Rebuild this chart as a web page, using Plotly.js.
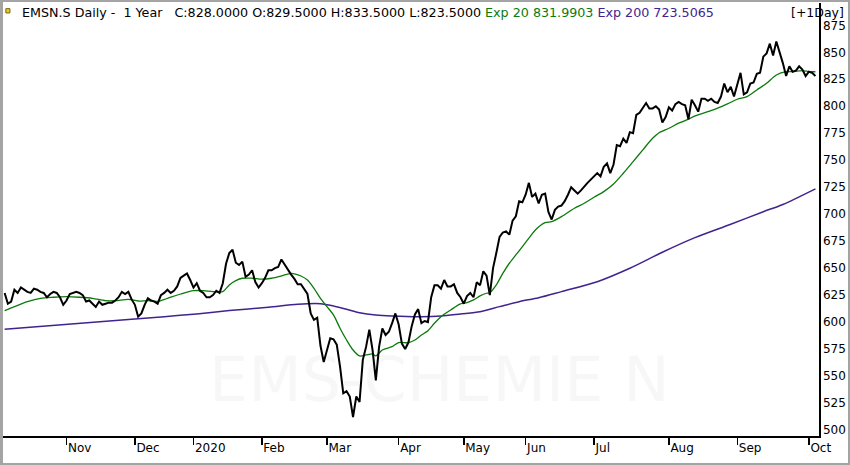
<!DOCTYPE html>
<html>
<head>
<meta charset="utf-8">
<script src="https://cdn.plot.ly/plotly-3.0.1.min.js"></script>
<style>
  body { margin: 0; background: #fff; }
  #frame {
    position: absolute; left: 0; top: 0;
    width: 850px; height: 465px; box-sizing: border-box;
    border: 2px solid #a4a4a4; border-left-width: 3px;
  }
  #chart { position: absolute; left: 0; top: 0; width: 850px; height: 465px; }
</style>
</head>
<body>
<div id="frame"></div>
<div id="chart"></div>
<script>
'use strict';

// daily closes, one per trading day (early Oct 2019 .. early Oct 2020)
const closes = [
  627, 617, 619, 630, 627, 632, 630, 628, 627, 631,
  630, 628, 627, 623, 626, 628, 627, 623, 616, 620,
  626, 627, 628, 627, 625, 619, 620, 617, 614, 619,
  616, 617, 618, 618, 620, 623, 628, 626, 628, 621,
  616, 605, 608, 616, 622, 620, 619, 617, 625, 627,
  630, 627, 629, 633, 641, 643, 645, 639, 632, 636,
  629, 627, 623, 623, 625, 629, 627, 636, 654, 664,
  667, 655, 653, 656, 642, 644, 648, 637, 632, 636,
  641, 648, 648, 650, 651, 658, 653, 649, 644, 640,
  635, 635, 631, 626, 608, 602, 604, 578, 563, 573,
  585, 584, 579, 559, 534, 536, 531, 512, 531, 526,
  565, 577, 593, 574, 546, 577, 594, 588, 591, 599,
  608, 598, 580, 575, 581, 596, 607, 612, 599, 601,
  600, 623, 634, 634, 631, 639, 633, 633, 635, 627,
  623, 617, 624, 627, 623, 637, 634, 647, 643, 625,
  650, 664, 679, 683, 684, 681, 694, 698, 712, 711,
  718, 729, 716, 719, 710, 718, 719, 702, 695, 704,
  707, 708, 712, 718, 725, 722, 719, 722, 726, 729,
  732, 735, 738, 735, 744, 747, 738, 746, 764, 763,
  770, 766, 776, 775, 792, 794, 798, 803, 798, 798,
  800, 797, 785, 790, 799, 796, 802, 804, 802, 801,
  788, 806, 801, 795, 807, 807, 805, 807, 804, 803,
  809, 821, 813, 818, 809, 821, 831, 811, 813, 821,
  822, 830, 831, 846, 849, 858, 847, 860, 851, 840,
  828, 837, 832, 833, 837, 834, 828, 832, 831, 828
];

// exponential moving average 20 (day index, value)
const ema20Idx = [0, 3, 7, 11, 15, 19, 23, 27, 31, 34, 38, 41, 44, 47, 50, 54, 58, 61, 64, 67,
  69, 71, 73, 76, 79, 82, 85, 88, 91, 93, 95, 97, 99, 101, 103, 105, 107, 109, 111, 113,
  114, 116, 119, 121, 124, 126, 128, 130, 132, 134, 137, 140, 142, 144, 146, 148, 149, 151, 153, 155,
  157, 159, 161, 163, 166, 168, 171, 175, 178, 181, 184, 187, 190, 193, 196, 199, 201, 204, 207, 210,
  212, 216, 219, 222, 225, 228, 231, 234, 237, 240, 242, 245, 247, 249];
const ema20Val = [610.6, 614.3, 618.9, 622, 623, 623.5, 623, 622, 619.8, 619.8, 621.1, 619.5, 619.8, 619.2, 622, 626, 629.1, 629.1, 628.2, 628.2,
  634.4, 638.4, 640.6, 640.6, 639.7, 640.6, 642.7, 645.2, 642.7, 639, 631.3, 622, 614.3, 606.6, 594.3, 583.4, 574.1, 568.6, 569.5, 570.4,
  568.6, 574.1, 577.2, 581, 580.9, 583.4, 588, 592, 598.9, 605, 611.2, 616.8, 618, 620.5, 624.2, 626.7, 627.2, 634.4, 645.2, 654.5,
  662.2, 669.9, 677.7, 685.4, 692.1, 693, 697.7, 705.5, 710.1, 715.7, 720.9, 728, 737.9, 748.7, 759.6, 770.3, 775.5, 779.6, 784.3, 788,
  791, 795, 798.2, 802.2, 806.5, 808.9, 815.1, 821.3, 829, 832.1, 832.1, 833, 832.1, 832];

// exponential moving average 200
const ema200Idx = [0, 38, 49, 59, 69, 81, 90, 97, 101, 105, 109, 114, 119, 127, 134, 140, 146, 152, 158, 164,
  171, 182, 192, 202, 212, 223, 233, 239, 249];
const ema200Val = [593.3, 602.3, 605, 607.5, 610.6, 613.7, 616.5, 617, 614.9, 611.9, 608.7, 606.6, 605.7, 605, 605.5, 607.5, 609.6, 614.3, 618.9, 622.5,
  628.2, 637.4, 649.9, 664.7, 678.2, 690.6, 702.3, 709, 723.5];

// month starts as trading-day index
const monthTickIdx = [19, 40, 58, 79, 99, 121, 141, 160, 181, 204, 225, 247];
const monthLabels = ['Nov', 'Dec', '2020', 'Feb', 'Mar', 'Apr', 'May', 'Jun', 'Jul', 'Aug', 'Sep', 'Oct'];

const priceTicks = [500, 525, 550, 575, 600, 625, 650, 675, 700, 725, 750, 775, 800, 825, 850, 875];

const green = '#0b7a0b';
const purple = '#41238f';

const traces = [
  {
    x: ema200Idx, y: ema200Val, type: 'scatter', mode: 'lines',
    line: {color: purple, width: 1.5, shape: 'spline', smoothing: 0.8}
  },
  {
    x: ema20Idx, y: ema20Val, type: 'scatter', mode: 'lines',
    line: {color: green, width: 1.3, shape: 'spline', smoothing: 0.8}
  },
  {
    x: closes.map((c, i) => i), y: closes, type: 'scatter', mode: 'lines',
    line: {color: '#000', width: 2}
  }
];

const sp = '\u00a0';
const header = 'EMSN.S Daily -' + sp + sp + '1 Year' + sp + sp + sp +
  'C:828.0000 O:829.5000 H:833.5000 L:823.5000 ' +
  '<span style="color:' + green + '">Exp 20 831.9903</span> ' +
  '<span style="color:' + purple + '">Exp 200 723.5065</span>';

const layout = {
  width: 850, height: 465,
  margin: {l: 3, r: 31, t: 3, b: 29, pad: 0},
  paper_bgcolor: 'rgba(0,0,0,0)',
  plot_bgcolor: '#fff',
  showlegend: false,
  hovermode: false,
  font: {family: 'DejaVu Sans', size: 12, color: '#000'},
  xaxis: {
    type: 'linear', range: [-0.5, 250.1],
    tickmode: 'array', tickvals: monthTickIdx, ticktext: monthLabels,
    ticks: 'outside', ticklen: 7, tickwidth: 1.5, tickcolor: '#000',
    ticklabelposition: 'outside right',
    showline: true, linecolor: '#000', linewidth: 1.5,
    showgrid: false, zeroline: false,
    tickfont: {family: 'DejaVu Sans', size: 12, color: '#000'}
  },
  yaxis: {
    side: 'right', range: [494.4, 895.7],
    tickmode: 'array', tickvals: priceTicks,
    ticks: '', showline: true, linecolor: '#000', linewidth: 1.5,
    showgrid: false, zeroline: false,
    tickfont: {family: 'DejaVu Sans', size: 12, color: '#000'}
  },
  annotations: [
    {
      text: 'EMS-CHEMIE N', xref: 'paper', yref: 'paper', x: 0.535, y: 0.13,
      xanchor: 'center', yanchor: 'middle', showarrow: false,
      font: {family: 'DejaVu Sans', size: 62, color: 'rgba(0,0,0,0.03)'}
    },
    {
      text: header, xref: 'paper', yref: 'paper', x: 0.021, y: 0.979,
      xanchor: 'left', yanchor: 'middle', showarrow: false,
      font: {family: 'DejaVu Sans', size: 12.7, color: '#000'}
    },
    {
      text: '[+1Day]', xref: 'paper', yref: 'paper', x: 1.0325, y: 0.979,
      xanchor: 'right', yanchor: 'middle', showarrow: false,
      font: {family: 'DejaVu Sans', size: 12.5, color: '#000'}
    }
  ],
  shapes: [
    // little flag in the corner
    {type: 'rect', xref: 'paper', yref: 'paper', x0: 0.0035, x1: 0.0085, y0: 0.977, y1: 0.987,
      fillcolor: '#e6cf1a', line: {color: '#7a6410', width: 1}}
  ]
};

Plotly.newPlot('chart', traces, layout, {displayModeBar: false, staticPlot: true});
</script>
</body>
</html>
